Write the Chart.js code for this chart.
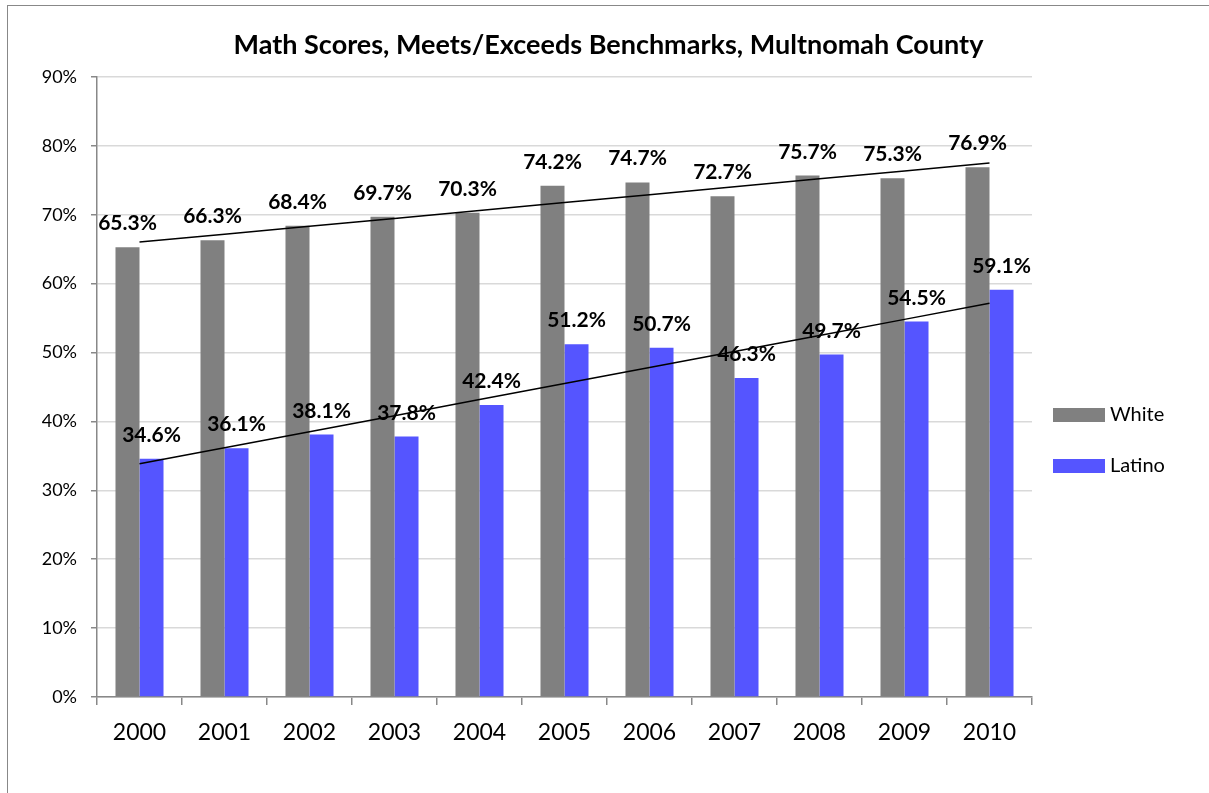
<!DOCTYPE html>
<html>
<head>
<meta charset="utf-8">
<script src="https://cdn.jsdelivr.net/npm/chart.js@4/dist/chart.umd.min.js"></script>
<style>
  body { margin: 0; background: #fff; }
  #frame {
    position: absolute;
    left: 7px;
    top: 5px;
    border-top: 1px solid #888;
    border-left: 1px solid #888;
  }
  canvas { display: block; }
</style>
</head>
<body>
<div id="frame"><canvas id="myChart" width="1201" height="787"></canvas></div>
<script>
const years = ["2000", "2001", "2002", "2003", "2004", "2005", "2006", "2007", "2008", "2009", "2010"];
const whiteScores = [65.3, 66.3, 68.4, 69.7, 70.3, 74.2, 74.7, 72.7, 75.7, 75.3, 76.9];
const latinoScores = [34.6, 36.1, 38.1, 37.8, 42.4, 51.2, 50.7, 46.3, 49.7, 54.5, 59.1];
const yTicks = [0, 10, 20, 30, 40, 50, 60, 70, 80, 90];

const FONT = "Lato, 'Open Sans', sans-serif";

// linear trendline (least squares, like the spreadsheet one)
function trendline(values) {
  const n = values.length;
  const mx = (n - 1) / 2;
  const my = values.reduce((a, b) => a + b, 0) / n;
  let sxy = 0, sxx = 0;
  values.forEach((v, i) => {
    sxy += (i - mx) * (v - my);
    sxx += (i - mx) * (i - mx);
  });
  const slope = sxy / sxx;
  return values.map((v, i) => my + slope * (i - mx));
}

// value labels above the bars: after the bars, before the trend lines
let labelsDone = false;
const barLabels = {
  id: "barLabels",
  beforeDatasetsDraw() {
    labelsDone = false;
  },
  beforeDatasetDraw(chart, args) {
    if (labelsDone || args.meta.type !== "line") return;
    labelsDone = true;
    const ctx = chart.ctx;
    ctx.save();
    ctx.font = "bold 21px " + FONT;
    ctx.fillStyle = "#000";
    ctx.textAlign = "center";
    ctx.textBaseline = "alphabetic";
    chart.data.datasets.forEach((ds, i) => {
      if (ds.type !== "bar") return;
      const meta = chart.getDatasetMeta(i);
      meta.data.forEach((bar, j) => {
        ctx.fillText(ds.data[j].toFixed(1) + "%", bar.x, bar.y - 17);
      });
    });
    ctx.restore();
  },
};

// legend on the right, like the original
const sideLegend = {
  id: "sideLegend",
  afterDraw(chart) {
    const ctx = chart.ctx;
    const area = chart.chartArea;
    ctx.save();
    ctx.font = "20px " + FONT;
    ctx.textBaseline = "middle";
    ctx.textAlign = "left";
    let k = 0;
    chart.data.datasets.forEach((ds) => {
      if (ds.type !== "bar") return;
      const x = area.right + 21;
      const y = area.top + 331 + k * 51;
      ctx.fillStyle = ds.backgroundColor;
      ctx.fillRect(x, y, 52, 14);
      ctx.fillStyle = "#000";
      ctx.fillText(ds.label, x + 57, y + 7);
      k++;
    });
    ctx.restore();
  },
};

const ctx = document.querySelector("#myChart");

const data = {
  labels: years,
  datasets: [
    {
      type: "line",
      label: "White trend",
      data: trendline(whiteScores),
      borderColor: "#000",
      borderWidth: 1.5,
      pointRadius: 0,
      fill: false,
      order: 0,
    },
    {
      type: "line",
      label: "Latino trend",
      data: trendline(latinoScores),
      borderColor: "#000",
      borderWidth: 1.5,
      pointRadius: 0,
      fill: false,
      order: 0,
    },
    {
      type: "bar",
      label: "White",
      data: whiteScores,
      backgroundColor: "#808080",
      order: 1,
    },
    {
      type: "bar",
      label: "Latino",
      data: latinoScores,
      backgroundColor: "#5555ff",
      order: 1,
    },
  ],
};

const config = {
  data,
  options: {
    responsive: false,
    animation: false,
    layout: { padding: 0 },
    datasets: {
      bar: { barPercentage: 1, categoryPercentage: 0.565 },
    },
    plugins: {
      legend: { display: false },
      tooltip: { enabled: false },
      title: {
        display: true,
        text: "Math Scores, Meets/Exceeds Benchmarks, Multnomah County",
        color: "#000",
        font: { family: FONT, size: 27, weight: "bold", lineHeight: 1.2 },
        padding: { top: 23, bottom: 15.6 },
      },
    },
    scales: {
      x: {
        offset: true,
        grid: {
          offset: true,
          drawOnChartArea: false,
          drawTicks: true,
          tickLength: 8,
          tickColor: "#888",
          lineWidth: 1.5,
        },
        border: { color: "#888", width: 1.5 },
        ticks: {
          color: "#000",
          font: { family: FONT, size: 23 },
          padding: 14,
        },
        afterFit(scale) {
          scale.height = 96;
        },
      },
      y: {
        min: 0,
        max: 90,
        afterBuildTicks(scale) {
          scale.ticks = yTicks.map((v) => ({ value: v }));
        },
        grid: {
          color: "#d9d9d9",
          lineWidth: 1.5,
          tickLength: 6,
          tickColor: "#888",
        },
        border: { color: "#888", width: 1.5 },
        ticks: {
          color: "#000",
          font: { family: FONT, size: 18 },
          padding: 14,
          callback: (v) => v + "%",
        },
        afterFit(scale) {
          scale.width = 89;
        },
      },
      // empty axis that keeps room for the legend on the right
      legendSpace: {
        type: "linear",
        position: "right",
        display: true,
        grid: { display: false, drawTicks: false },
        border: { display: false },
        ticks: { display: false },
        afterFit(scale) {
          scale.width = 177;
        },
      },
    },
  },
  plugins: [barLabels, sideLegend],
};

let myChart = new Chart(ctx, config);
</script>
</body>
</html>
